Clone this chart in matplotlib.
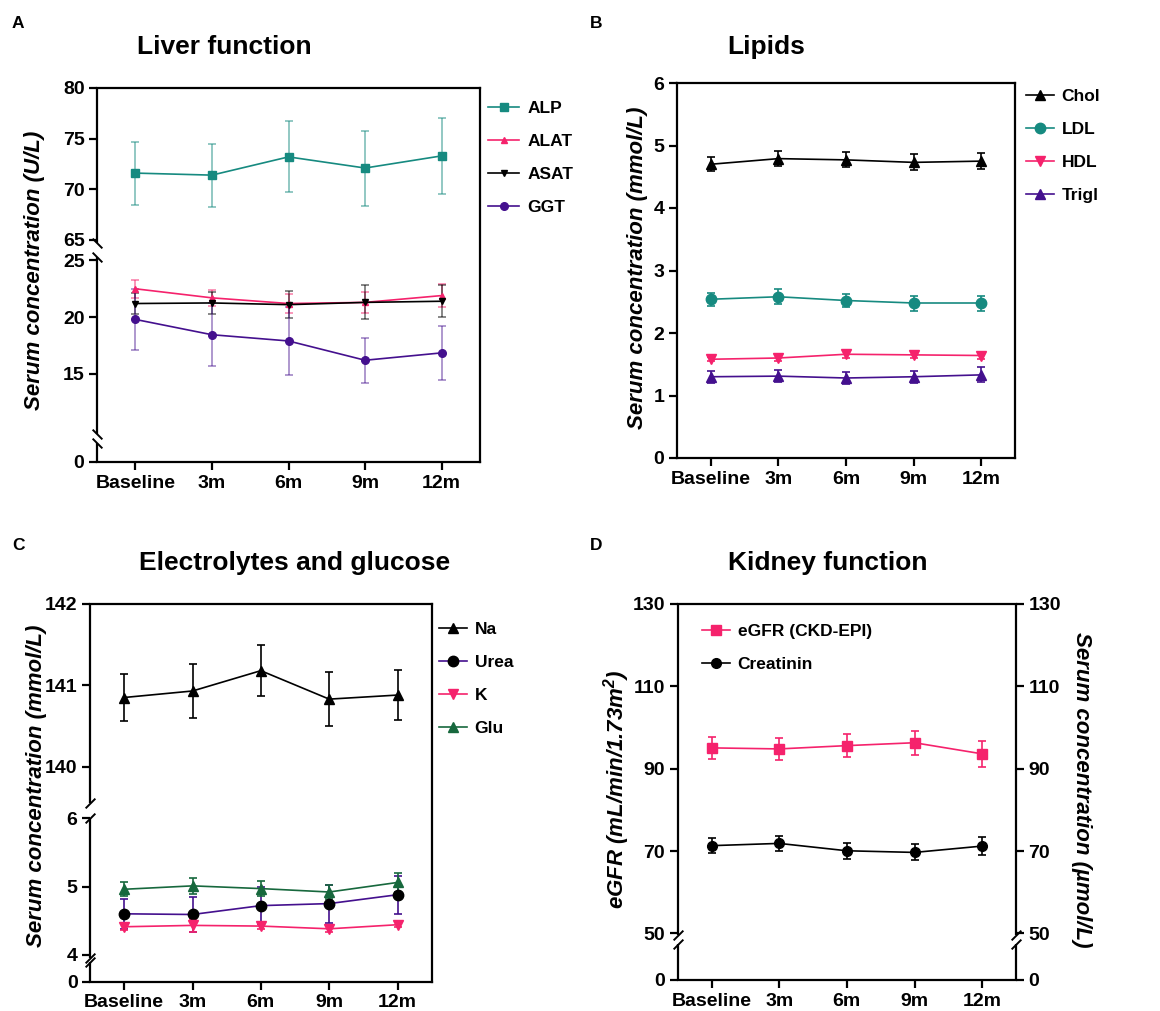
import numpy as np
import matplotlib
matplotlib.use("Agg")
import matplotlib.pyplot as plt

plt.rcParams['font.family'] = ['Liberation Sans', 'DejaVu Sans']
plt.rcParams['font.weight'] = 'bold'
plt.rcParams['mathtext.fontset'] = 'custom'
plt.rcParams['mathtext.rm'] = 'Liberation Sans:bold:italic'
plt.rcParams['mathtext.it'] = 'Liberation Sans:bold:italic'
plt.rcParams['mathtext.bf'] = 'Liberation Sans:bold:italic'

# ---------------- data ----------------
timepoints = ["Baseline", "3m", "6m", "9m", "12m"]

alp = [71.6, 71.4, 73.2, 72.1, 73.3]
alp_err = [3.1, 3.1, 3.5, 3.7, 3.75]
alat = [22.5, 21.7, 21.2, 21.3, 21.9]
alat_err = [0.8, 0.7, 0.8, 0.9, 1.0]
asat = [21.2, 21.25, 21.1, 21.3, 21.4]
asat_err = [0.9, 1.0, 1.2, 1.5, 1.4]
ggt = [19.8, 18.45, 17.9, 16.2, 16.85]
ggt_err = [2.7, 2.8, 3.0, 2.0, 2.35]

chol = [4.70, 4.79, 4.77, 4.73, 4.75]
chol_err = [0.11, 0.12, 0.12, 0.13, 0.13]
ldl = [2.54, 2.58, 2.52, 2.48, 2.48]
ldl_err = [0.10, 0.12, 0.10, 0.12, 0.12]
hdl = [1.58, 1.60, 1.66, 1.65, 1.64]
hdl_err = [0.03, 0.05, 0.06, 0.05, 0.05]
trigl = [1.30, 1.31, 1.28, 1.30, 1.33]
trigl_err = [0.10, 0.10, 0.10, 0.10, 0.12]

na = [140.85, 140.93, 141.18, 140.83, 140.88]
na_err = [0.29, 0.33, 0.31, 0.33, 0.31]
urea = [4.60, 4.59, 4.72, 4.75, 4.88]
urea_err = [0.22, 0.26, 0.27, 0.28, 0.28]
k = [4.41, 4.43, 4.42, 4.38, 4.44]
k_err = [0.05, 0.09, 0.04, 0.04, 0.04]
glu = [4.96, 5.01, 4.97, 4.92, 5.06]
glu_err = [0.10, 0.12, 0.11, 0.11, 0.14]

egfr = [95.05, 94.8, 95.6, 96.3, 93.6]
egfr_err = [2.6, 2.6, 2.75, 2.9, 3.1]
crea = [71.3, 71.85, 70.06, 69.66, 71.2]
crea_err = [1.8, 1.85, 1.95, 1.95, 2.1]

x = np.arange(len(timepoints))

TEAL = '#168a80'
PINK = '#f5226c'
PURPLE = '#44108e'
GREEN = '#17683d'
BLACK = '#000000'

W, H = 1160, 1011
fig = plt.figure(figsize=(W / 100, H / 100), dpi=100)


def add_ax(l, t, r, b):
    return fig.add_axes([l / W, 1 - b / H, (r - l) / W, (b - t) / H])


def broken_scale(ax, vals, pxs):
    vals = np.asarray(vals, float)
    pxs = np.asarray(pxs, float)
    fwd = lambda v: np.interp(v, vals, pxs)
    inv = lambda p: np.interp(p, pxs, vals)
    ax.set_yscale('function', functions=(fwd, inv))


def style_ax(ax, yticks, ylim, segs=None, marks=None, mark_shape='\\', right=False):
    ax.set_xlim(-0.5, 4.5)
    ax.set_ylim(*ylim)
    ax.set_xticks(x)
    ax.set_xticklabels(timepoints)
    ax.set_yticks(yticks)
    ax.set_yticklabels([str(t) for t in yticks])
    ax.minorticks_off()
    ax.tick_params(axis='both', direction='out', length=6, width=1.6,
                   labelsize=14, pad=3)
    for s in ax.spines.values():
        s.set_linewidth(1.6)
    if right:
        ax.tick_params(axis='y', right=True, labelright=True)
    if segs is not None:
        sides = [0, 1] if right else [0]
        ax.spines['left'].set_visible(False)
        if right:
            ax.spines['right'].set_visible(False)
        tr = ax.get_yaxis_transform()
        mk = [(-1, 1), (1, -1)] if mark_shape == '\\' else [(-1, -1), (1, 1)]
        for xs in sides:
            for a, b in segs:
                ax.plot([xs, xs], [a, b], transform=tr, color='k', lw=1.6,
                        clip_on=False, solid_capstyle='butt', zorder=5)
            for v in marks:
                ax.plot([xs], [v], transform=tr, marker=mk, ms=7, mew=1.4,
                        color='k', clip_on=False, zorder=6, linestyle='none')


def series(ax, y, err, color, marker, ms, ecolor=None, ealpha=1.0, mcolor=None,
           capsize=3.2):
    ax.errorbar(x, y, yerr=err, fmt='none', ecolor=ecolor or color,
                elinewidth=1.2, capsize=capsize, capthick=1.2, alpha=ealpha,
                zorder=2)
    mc = mcolor or color
    ln, = ax.plot(x, y, color=color, marker=marker, ms=ms, mfc=mc, mec=mc,
                  lw=1.2, zorder=3)
    return ln


def legend(ax, handles, labels, xpx, ytop, hl=1.6):
    ax.legend(handles, labels, loc='upper left',
              bbox_to_anchor=(xpx / W, 1 - ytop / H),
              bbox_transform=fig.transFigure, frameon=False, borderpad=0,
              borderaxespad=0, handlelength=hl, handletextpad=0.45,
              labelspacing=1.03, prop=dict(size=12.5, weight='bold'))


ylab_kw = dict(fontsize=16, fontweight='bold', fontstyle='italic')

# ---------------- Panel A ----------------
axA = add_ax(97, 88, 480, 462)
broken_scale(axA, [0, 1.5, 9.7, 25.3, 64.7, 80], [0, 19, 28, 205, 219, 374])
hA = [
    series(axA, alp, alp_err, TEAL, 's', 5.5, ealpha=0.55, capsize=3),
    series(axA, alat, alat_err, PINK, '^', 4, ealpha=0.55, capsize=3),
    series(axA, asat, asat_err, BLACK, 'v', 4.5, ealpha=0.55, capsize=3),
    series(axA, ggt, ggt_err, PURPLE, 'o', 5.5, ealpha=0.5, capsize=3),
]
style_ax(axA, [0, 15, 20, 25, 65, 70, 75, 80], (0, 80),
         segs=[(0, 1.5), (9.7, 25.3), (64.7, 80)],
         marks=[1.5, 9.7, 25.3, 64.7], mark_shape='\\')
axA.set_ylabel('Serum concentration (U/L)', **ylab_kw)
axA.yaxis.set_label_coords(-0.136, 0.513)
legend(axA, hA, ['ALP', 'ALAT', 'ASAT', 'GGT'], 488, 101, hl=1.8)

# ---------------- Panel B ----------------
axB = add_ax(677, 83, 1015, 458)
hB = [
    series(axB, chol, chol_err, BLACK, '^', 7),
    series(axB, ldl, ldl_err, TEAL, 'o', 7.5),
    series(axB, hdl, hdl_err, PINK, 'v', 7.5),
    series(axB, trigl, trigl_err, PURPLE, '^', 7),
]
style_ax(axB, [0, 1, 2, 3, 4, 5, 6], (0, 6))
axB.set_ylabel('Serum concentration (mmol/L)', **ylab_kw)
axB.yaxis.set_label_coords(-0.086, 0.508)
legend(axB, hB, ['Chol', 'LDL', 'HDL', 'Trigl'], 1026, 89)

# ---------------- Panel C ----------------
axC = add_ax(90, 604, 431.7, 981.7)
broken_scale(axC, [0, 4, 6, 139.4, 142], [0, 27, 163.3, 166.3, 377.7])
hC = [
    series(axC, na, na_err, BLACK, '^', 7),
    series(axC, urea, urea_err, PURPLE, 'o', 7.5, mcolor=BLACK),
    series(axC, k, k_err, PINK, 'v', 7),
    series(axC, glu, glu_err, GREEN, '^', 7),
]
style_ax(axC, [0, 4, 5, 6, 140, 141, 142], (0, 142),
         segs=[(0, 2.9), (3.5, 6.02), (139.55, 142)],
         marks=[2.9, 3.5, 6.02, 139.55], mark_shape='/')
axC.set_ylabel('Serum concentration (mmol/L)', **ylab_kw)
axC.yaxis.set_label_coords(-0.126, 0.518)
legend(axC, hC, ['Na', 'Urea', 'K', 'Glu'], 439, 622)

# ---------------- Panel D ----------------
axD = add_ax(677.7, 604, 1016, 980)
broken_scale(axD, [0, 5, 49.6, 130], [0, 36, 45, 376])
hD = [
    series(axD, egfr, egfr_err, PINK, 's', 7),
    series(axD, crea, crea_err, BLACK, 'o', 7),
]
style_ax(axD, [0, 50, 70, 90, 110, 130], (0, 130),
         segs=[(0, 5), (49.6, 130)], marks=[5, 49.6], mark_shape='/',
         right=True)
axD.set_ylabel(r'eGFR (mL/min/1.73m$^{2}$)', **ylab_kw)
axD.yaxis.set_label_coords(-0.135, 0.507)
axD.text(1.195, 0.505, 'Serum concentration (µmol/L)', transform=axD.transAxes,
         rotation=270, ha='center', va='center', **ylab_kw)
legend(axD, hD, ['eGFR (CKD-EPI)', 'Creatinin'], 702, 624)

# ---------------- titles and panel letters ----------------
def ftext(xp, yp, s, **kw):
    fig.text(xp / W, 1 - yp / H, s, **kw)

ftext(224, 47, 'Liver function', ha='center', va='center', fontsize=19, fontweight='bold')
ftext(766, 47, 'Lipids', ha='center', va='center', fontsize=19, fontweight='bold')
ftext(295, 563, 'Electrolytes and glucose', ha='center', va='center', fontsize=19, fontweight='bold')
ftext(828, 563, 'Kidney function', ha='center', va='center', fontsize=19, fontweight='bold')

for lx, ly, letter in [(12, 24, 'A'), (590, 24, 'B'), (12, 545, 'C'), (590, 545, 'D')]:
    ftext(lx, ly, letter, ha='left', va='center', fontsize=12.5, fontweight='bold')

fig.savefig('out.png', dpi=100)
